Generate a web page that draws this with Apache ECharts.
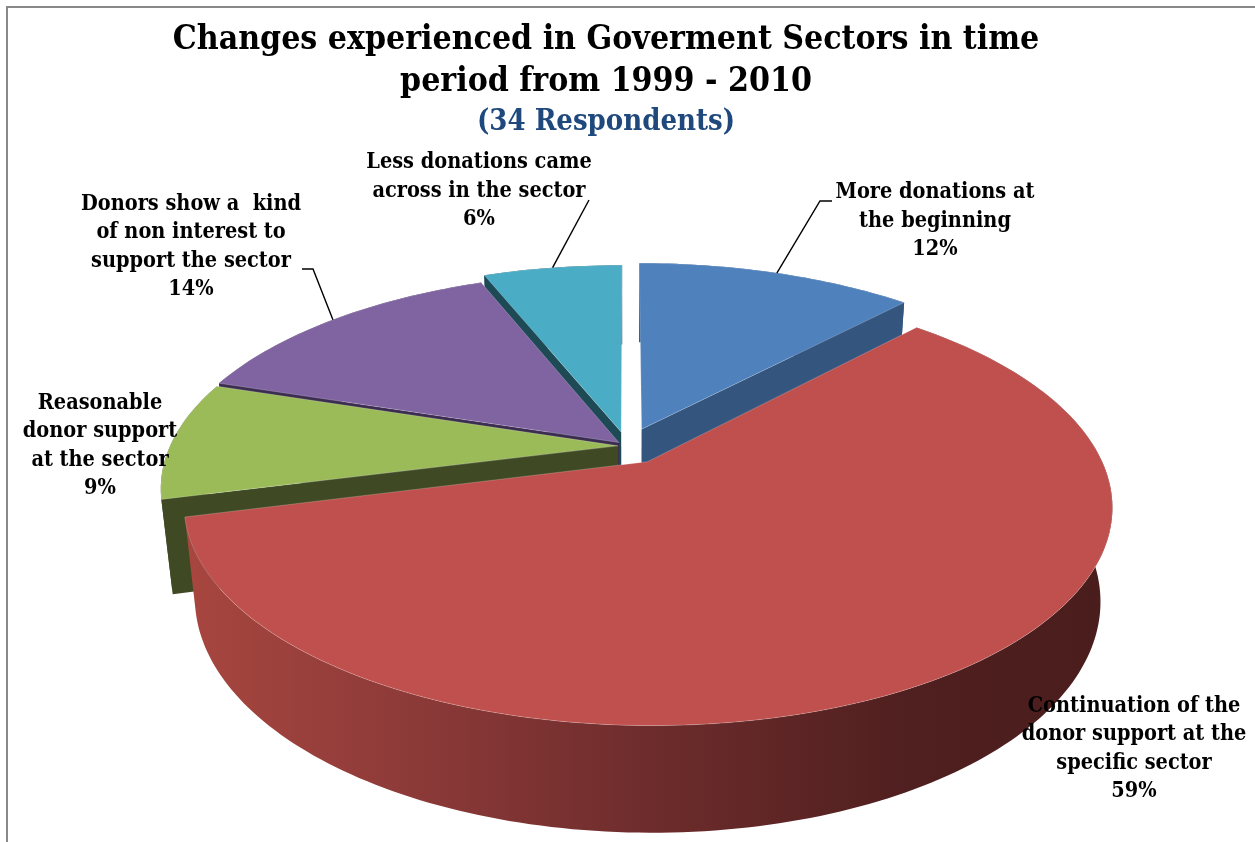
<!DOCTYPE html>
<html>
<head>
<meta charset="utf-8">
<script src="https://cdn.jsdelivr.net/npm/echarts@6/dist/echarts.min.js"></script>
<style>
  html, body { margin: 0; padding: 0; background: #ffffff; }
  #chart { width: 1255px; height: 842px; }
</style>
</head>
<body>
<div id="chart"></div>
<script>
// ---- data ----
const categories = [
  'More donations at\nthe beginning',
  'Continuation of the\ndonor support at the\nspecific sector',
  'Reasonable\ndonor support\nat the sector',
  'Donors show a  kind\nof non interest to\nsupport the sector',
  'Less donations came\nacross in the sector'
];
const shares = [12, 59, 9, 14, 6];
const titleLines = ['Changes experienced in Goverment Sectors in time', 'period from 1999 - 2010'];
const subtitle = '(34 Respondents)';

// ---- look ----
const FONT = '"DejaVu Serif Condensed", "DejaVu Serif", "Liberation Serif", serif';
const topColors = ['#4F81BD', '#C0504D', '#9BBB59', '#8064A2', '#4BACC6'];
const faceColors = ['#34557E', '#7A3230', '#3F4A24', '#3B2C50', '#1E4A56'];
const sideStops = [
  null,
  [[0, '#A8463F'], [0.23, '#8E3B39'], [0.5, '#6E2C2C'], [0.78, '#501F1F'], [1, '#4A1D1D']],
  null, null, null
];
const explode = [0.09, 0.088, 0.02, 0.025, 0.07];      // slice pull-out, in radius units
const labelAt = [[935, 221], [1134, 749], [100, 446], [191, 247], [479, 191]];
const leaderKnees = [[[820, 201], [832, 201]], null, null, [[313, 269], [302, 269]], [[589, 200]]];
const view = { cx: 627, cy: 446, r: 448, tilt: 27.2, persp: 0.2216, depth: 0.235 };

const sinE = Math.sin(view.tilt * Math.PI / 180);
const cosE = Math.cos(view.tilt * Math.PI / 180);
const camDist = 1 / view.persp;

// perspective projection of a point on the tilted disc (X right, Y up, Z toward viewer)
function proj(X, Y, Z) {
  const w = 1 - view.persp * (Z * cosE + Y * sinE);
  return [view.cx + view.r * X / w, view.cy + view.r * (Z * sinE - Y * cosE) / w];
}

// cumulative layout, clockwise from 12 o'clock
const total = shares.reduce((a, b) => a + b, 0);
let acc = 0;
const slices = shares.map((v, i) => {
  const a0 = acc / total * Math.PI * 2;
  acc += v;
  const a1 = acc / total * Math.PI * 2;
  const mid = (a0 + a1) / 2;
  const ox = Math.sin(mid) * explode[i];
  const oz = -Math.cos(mid) * explode[i];
  return { a0, a1, mid, ox, oz, depthKey: oz - Math.cos(mid) * 0.5 };
});
const order = slices.map((s, i) => i).sort((a, b) => slices[a].depthKey - slices[b].depthKey);
const rank = [];
order.forEach((idx, r) => { rank[idx] = r; });

function rim(s, a, Y) {
  return proj(s.ox + Math.sin(a), Y, s.oz - Math.cos(a));
}

function faceVisible(s, a, normalAngle) {
  // midpoint of the radial wall, compared with the camera position
  const px = s.ox + Math.sin(a) * 0.5, pz = s.oz - Math.cos(a) * 0.5, py = -view.depth / 2;
  const nx = Math.sin(normalAngle), nz = -Math.cos(normalAngle);
  const vx = -px, vy = camDist * sinE - py, vz = camDist * cosE - pz;
  const len = Math.sqrt(vx * vx + vy * vy + vz * vz);
  return (nx * vx + nz * vz) / len > 0.03;
}

function renderSlice(params, api) {
  const i = params.dataIndex;
  const s = slices[i];
  const H = view.depth;
  const base = rank[i] * 10;
  const steps = Math.max(8, Math.ceil((s.a1 - s.a0) / 0.02));
  const topArc = [], botArc = [];
  for (let k = 0; k <= steps; k++) {
    const a = s.a0 + (s.a1 - s.a0) * k / steps;
    topArc.push(rim(s, a, 0));
    botArc.push(rim(s, a, -H));
  }
  const apexTop = proj(s.ox, 0, s.oz);
  const apexBot = proj(s.ox, -H, s.oz);
  const children = [];

  // outer wall
  const sideFill = sideStops[i]
    ? {
        type: 'linear', x: 0, y: 0, x2: 1, y2: 0, global: false,
        colorStops: sideStops[i].map(st => ({ offset: st[0], color: st[1] }))
      }
    : faceColors[i];
  children.push({
    type: 'polygon', z2: base + 1,
    shape: { points: topArc.concat(botArc.slice().reverse()) },
    style: { fill: sideFill, stroke: null }
  });

  // radial walls facing the viewer
  [[s.a0, s.a0 - Math.PI / 2], [s.a1, s.a1 + Math.PI / 2]].forEach(([a, n]) => {
    if (!faceVisible(s, a, n)) return;
    children.push({
      type: 'polygon', z2: base + 2,
      shape: { points: [apexTop, rim(s, a, 0), rim(s, a, -H), apexBot] },
      style: { fill: faceColors[i], stroke: null }
    });
  });

  // top surface
  children.push({
    type: 'polygon', z2: base + 3,
    shape: { points: [apexTop].concat(topArc) },
    style: { fill: topColors[i], stroke: 'rgba(255,255,255,0.35)', lineWidth: 0.6 }
  });

  // leader line
  if (leaderKnees[i]) {
    const start = rim(s, s.mid, 0);
    children.push({
      type: 'polyline', z2: 200,
      shape: { points: [start].concat(leaderKnees[i]) },
      style: { stroke: '#000', lineWidth: 1.4, fill: null }
    });
  }

  // data label
  children.push({
    type: 'text', z2: 210,
    style: {
      text: categories[i] + '\n' + api.value(0) + '%',
      x: labelAt[i][0], y: labelAt[i][1],
      fill: '#000',
      fontFamily: FONT, fontWeight: 'bold', fontSize: 21.5, lineHeight: 28.5,
      align: 'center', verticalAlign: 'middle',
      textAlign: 'center', textVerticalAlign: 'middle'
    }
  });
  return { type: 'group', children };
}

const chart = echarts.init(document.getElementById('chart'), null, { renderer: 'canvas' });
chart.setOption({
  backgroundColor: '#ffffff',
  animation: false,
  title: {
    text: titleLines.join('\n'),
    subtext: subtitle,
    left: 601, top: 14, textAlign: 'center', itemGap: 2,
    textStyle: { fontFamily: FONT, fontWeight: 'bold', fontSize: 33.5, lineHeight: 42, color: '#000000' },
    subtextStyle: { fontFamily: FONT, fontWeight: 'bold', fontSize: 29, lineHeight: 34, color: '#1F497D' }
  },
  graphic: [{
    type: 'rect', silent: true,
    shape: { x: 7, y: 7, width: 1300, height: 900 },
    style: { fill: null, stroke: '#888888', lineWidth: 2 }
  }],
  series: [{
    type: 'custom',
    coordinateSystem: 'none',
    renderItem: renderSlice,
    data: shares.map((v, i) => ({ name: categories[i], value: [v] }))
  }]
});
</script>
</body>
</html>
